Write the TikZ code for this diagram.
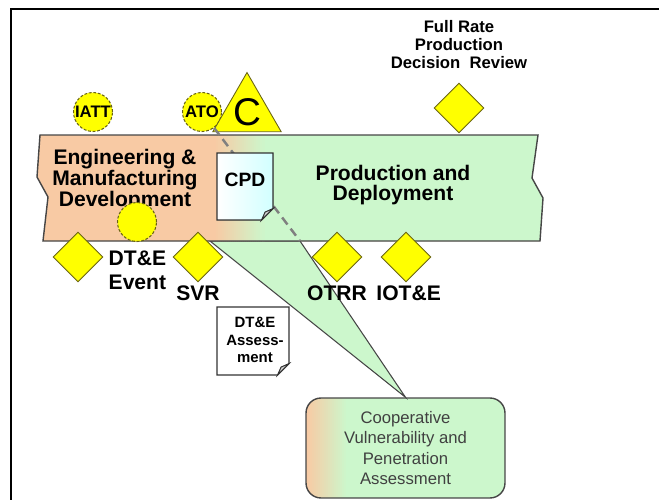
\documentclass[tikz,border=0pt]{standalone}
\usepackage{fontspec}
\setmainfont{Liberation Sans}
\usepackage{tikz}
\usetikzlibrary{shapes.geometric}
\usetikzlibrary{positioning}

\definecolor{engorange}{RGB}{248,202,164}
\definecolor{pdgreen}{RGB}{204,247,204}
\definecolor{msyellow}{RGB}{255,255,0}
\definecolor{msedge}{RGB}{105,100,20}
\definecolor{bandedge}{RGB}{70,70,70}

\tikzset{band-line/.style={draw=bandedge, line width=0.8pt}}
\tikzset{milestone/.style={draw=msedge, fill=msyellow, shape=diamond, inner sep=0, minimum width=1cm, minimum height=1cm, line width=0.5pt}}
\tikzset{review-circle/.style={draw=msedge, fill=msyellow, circle, dash pattern=on 1.6pt off 1pt, inner sep=0, minimum size=0.78cm, line width=0.6pt, font=\fontsize{9.5}{9.5}\selectfont\bfseries}}
\tikzset{ms-label/.style={inner sep=0, align=center, font=\fontsize{12}{14}\selectfont\bfseries}}
\tikzset{phase-label/.style={inner sep=0, align=center, font=\fontsize{12}{11.7}\selectfont\bfseries}}
\tikzset{doc-line/.style={draw=black!80, line width=0.6pt}}
\tikzset{doc-text/.style={inner sep=0, align=center, font=\bfseries}}
\tikzset{cvpa-box/.style={draw=bandedge, line width=0.8pt, rounded corners=0.3cm, fill=pdgreen, minimum width=3.98cm, minimum height=2cm, align=center, text=black!75, font=\fontsize{9.5}{11.6}\selectfont,
    path picture={\foreach \i [evaluate=\i as \pct using int(\i*5)] in {0,...,20}
        \fill[sharp corners, pdgreen!\pct!engorange] ([xshift=\i*0.04cm]path picture bounding box.south west) rectangle ([xshift=\i*0.04cm+0.05cm]path picture bounding box.north west);}}}

% page with a folded corner: #1 = top left, #2 = bottom right, #3 = fill
\newcommand{\dogearpage}[3]{%
  \filldraw[doc-line, #3] (#1) -- (#2 |- #1) -- ([yshift=6.5pt]#2) -- ([xshift=-6.5pt]#2) -- (#1 |- #2) -- cycle;
  \filldraw[doc-line, fill=gray!35] ([xshift=-6.5pt]#2) -- ([xshift=-4.5pt,yshift=4.5pt]#2) -- ([yshift=6.5pt]#2) -- cycle;
}

\begin{document}
\begin{tikzpicture}[x=0.02cm, y=-0.02cm]
    \useasboundingbox (0,0) rectangle (659,500);
    \begin{scope}
        \clip (0,0) rectangle (659,500);
        \draw[line width=1.7pt] (11,9) rectangle (700,540);
    \end{scope}

    % assessment callout
    \node[cvpa-box] (cvpa) at (405.5,448) {Cooperative\\Vulnerability and\\Penetration\\Assessment};
    \coordinate (wedgeL) at (210,241);
    \coordinate (wedgeR) at (300,241);
    \filldraw[draw=bandedge, line width=0.6pt, fill=pdgreen] (wedgeL) -- (cvpa.north) -- (wedgeR) -- cycle;

    % phase band
    \draw[band-line, fill=engorange,
        path picture={\fill[pdgreen] (262,100) rectangle (600,300);
                      \foreach \i [evaluate=\i as \pct using int(\i*4)] in {0,...,24}
                          \fill[pdgreen!\pct!engorange] (214+\i*2,100) rectangle (216.5+\i*2,300);}]
        (40,135) -- (538,135) -- (532,178) -- (543,198) -- (540,241) -- (43,241) -- (48,197) -- (37,177) -- cycle;

    \node[phase-label] (emd) at (125,180) {Engineering \&\\Manufacturing\\Development};
    \node[phase-label] (pd) at (393,185) {Production and\\Deployment};

    % reviews above the band
    \node[review-circle] (iatt) at (93,112) {IATT};
    \node[review-circle] (ato) at (202,112) {ATO};
    \node[draw=msedge, fill=msyellow, regular polygon, regular polygon sides=3, minimum size=1.52cm, inner sep=0, line width=0.5pt, font=\fontsize{22}{22}\selectfont] (cert) at (247,112) {C};

    \draw[draw=gray, line width=1.4pt, dash pattern=on 5pt off 3pt] (ato) -- (wedgeR);

    % CPD page
    \coordinate (cpdnw) at (217,153);
    \coordinate (cpdse) at (273,220);
    \dogearpage{cpdnw}{cpdse}{left color=white, right color=cyan!18}
    \node[doc-text, font=\fontsize{11}{11}\selectfont\bfseries] (cpd) at (245,180) {CPD};

    \node[review-circle] (dtecircle) at (137,222) {};

    % milestones
    \node[milestone] (dte) at (78,257) {};
    \node[milestone] (svr) at (198,257) {};
    \node[milestone] (otrr) at (337,257) {};
    \node[milestone] (iote) at (406,257) {};
    \node[milestone] (frdr) at (459,108) {};

    \node[ms-label, align=left, right=2.8pt of dte, yshift=-7.5pt] (dtelbl) {DT\&E\\Event};
    \node[ms-label, below=1.5pt of svr] (svrlbl) {SVR};
    \node[ms-label, below=1.5pt of otrr] (otrrlbl) {OTRR};
    \node[ms-label, below=1.5pt of iote, xshift=1.5pt] (iotelbl) {IOT\&E};
    \node[ms-label, above=7.5pt of frdr, font=\fontsize{9.5}{10.3}\selectfont\bfseries] (frdrlbl) {Full Rate\\Production\\Decision\ \ Review};

    % DT&E assessment page
    \coordinate (dtanw) at (217,307);
    \coordinate (dtase) at (289,375);
    \dogearpage{dtanw}{dtase}{fill=white}
    \node[doc-text, font=\fontsize{8.5}{10}\selectfont\bfseries] (dta) at (255,340) {DT\&E\\Assess-\\ment};
\end{tikzpicture}
\end{document}
